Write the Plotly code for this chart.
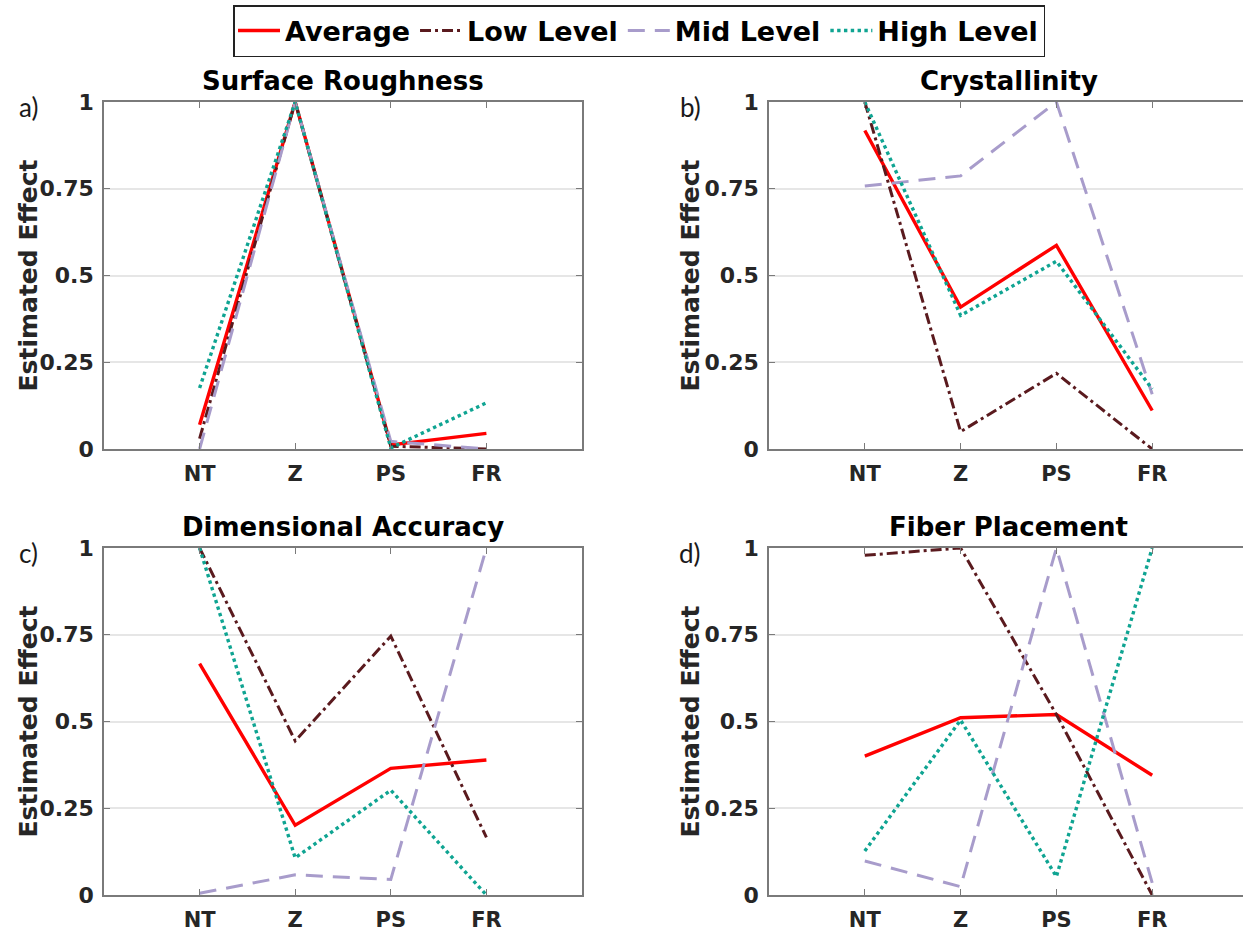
import plotly.graph_objects as go

W, H = 1243, 932

categories = ["NT", "Z", "PS", "FR"]
series_names = ["Average", "Low Level", "Mid Level", "High Level"]
panel_titles = ["Surface Roughness", "Crystallinity", "Dimensional Accuracy", "Fiber Placement"]
panel_labels = ["a)", "b)", "c)", "d)"]
y_tick_vals = [0, 0.25, 0.5, 0.75, 1]
y_tick_text = ["0", "0.25", "0.5", "0.75", "1"]
y_axis_title = "Estimated Effect"

# Surface Roughness
surface_average = [0.07, 1.0, 0.012, 0.045]
surface_low = [0.03, 1.0, 0.008, 0.0]
surface_mid = [0.0, 1.0, 0.022, 0.0]
surface_high = [0.176, 1.0, 0.003, 0.133]

# Crystallinity
crystal_average = [0.918, 0.409, 0.587, 0.111]
crystal_low = [1.0, 0.05, 0.218, 0.0]
crystal_mid = [0.758, 0.787, 1.0, 0.158]
crystal_high = [1.0, 0.385, 0.541, 0.173]

# Dimensional Accuracy
dim_average = [0.667, 0.201, 0.365, 0.389]
dim_low = [1.0, 0.444, 0.746, 0.166]
dim_mid = [0.005, 0.058, 0.045, 1.0]
dim_high = [1.0, 0.107, 0.302, 0.0]

# Fiber Placement
fiber_average = [0.40, 0.511, 0.52, 0.345]
fiber_low = [0.979, 1.0, 0.52, 0.0]
fiber_mid = [0.098, 0.024, 1.0, 0.035]
fiber_high = [0.127, 0.504, 0.053, 1.0]

panels = [
    [surface_average, surface_low, surface_mid, surface_high],
    [crystal_average, crystal_low, crystal_mid, crystal_high],
    [dim_average, dim_low, dim_mid, dim_high],
    [fiber_average, fiber_low, fiber_mid, fiber_high],
]

styles = [
    dict(color="#FF0000", width=3.4, dash="solid"),
    dict(color="#5A1A1E", width=3.0, dash="11px,4px,3px,4px"),
    dict(color="#A89CCB", width=3.0, dash="17px,10px"),
    dict(color="#0FA492", width=3.4, dash="dot"),
]

BOLD = "DejaVu Sans"
TXT = "#262626"

# pixel geometry of plot boxes
left_x = [104, 769]
right_x = [582, 1248]
top_y = [102, 548]
bot_y = [449, 895]

fig = go.Figure()

for p in range(4):
    col, row = p % 2, p // 2
    ax = "" if p == 0 else str(p + 1)
    for s in range(4):
        fig.add_trace(go.Scatter(
            x=categories, y=panels[p][s], mode="lines",
            name=series_names[s], line=styles[s],
            showlegend=(p == 0), legendgroup=series_names[s],
            xaxis="x" + ax, yaxis="y" + ax,
        ))
    x0 = left_x[col] / W
    x1 = min(right_x[col], W) / W
    units = 5 * (min(right_x[col], W) - left_x[col]) / (right_x[col] - left_x[col])
    fig.layout["xaxis" + ax] = dict(
        domain=[x0, x1], anchor="y" + ax, type="category",
        categoryorder="array", categoryarray=categories,
        range=[-1, -1 + units], automargin=False,
        showline=True, linecolor="#7A7A7A", linewidth=1.6, mirror="ticks",
        ticks="inside", ticklen=6, tickcolor="#7A7A7A", tickwidth=1.4,
        showgrid=False, zeroline=False,
        tickfont=dict(family=BOLD, size=21, color=TXT, weight="bold"),
        ticklabelstandoff=5,
    )
    fig.layout["yaxis" + ax] = dict(
        domain=[1 - bot_y[row] / H, 1 - top_y[row] / H], anchor="x" + ax,
        range=[0, 1], tickvals=y_tick_vals, ticktext=y_tick_text,
        automargin=False,
        showline=True, linecolor="#7A7A7A", linewidth=1.6,
        mirror=("ticks" if col == 0 else False),
        ticks="inside", ticklen=6, tickcolor="#7A7A7A", tickwidth=1.4,
        showgrid=True, gridcolor="#E6E6E6", gridwidth=1.6, zeroline=False,
        tickfont=dict(family=BOLD, size=22, color=TXT, weight="bold"),
        ticklabelstandoff=4,
    )
    cx = (left_x[col] + right_x[col]) / 2 / W
    fig.add_annotation(
        text=panel_titles[p], xref="paper", yref="paper",
        x=cx, y=1 - (top_y[row] - 21) / H, xanchor="center", yanchor="middle",
        showarrow=False, font=dict(family=BOLD, size=26, color="#000000", weight="bold"),
    )
    lab_x = [28, 690][col]
    fig.add_annotation(
        text=y_axis_title, xref="paper", yref="paper",
        x=lab_x / W, y=1 - (top_y[row] + bot_y[row]) / 2 / H,
        xanchor="center", yanchor="middle", textangle=-90,
        showarrow=False, font=dict(family=BOLD, size=25, color=TXT, weight="bold"),
    )
    fig.add_annotation(
        text=panel_labels[p], xref="paper", yref="paper",
        x=lab_x / W, y=1 - (top_y[row] + 5) / H,
        xanchor="center", yanchor="middle",
        showarrow=False, font=dict(family="Lato", size=26, color="#1a1a1a"),
    )

fig.update_layout(
    width=W, height=H,
    margin=dict(l=0, r=0, t=0, b=0, autoexpand=False),
    paper_bgcolor="white", plot_bgcolor="white",
    showlegend=True,
    legend=dict(
        orientation="h", x=233 / W, y=1 - 5 / H, xanchor="left", yanchor="top",
        bordercolor="#222222", borderwidth=1.5, bgcolor="white",
        font=dict(family=BOLD, size=27, color="#000000", weight="bold"),
        itemwidth=42, tracegroupgap=0,
    ),
)

fig.write_html("out.html")
